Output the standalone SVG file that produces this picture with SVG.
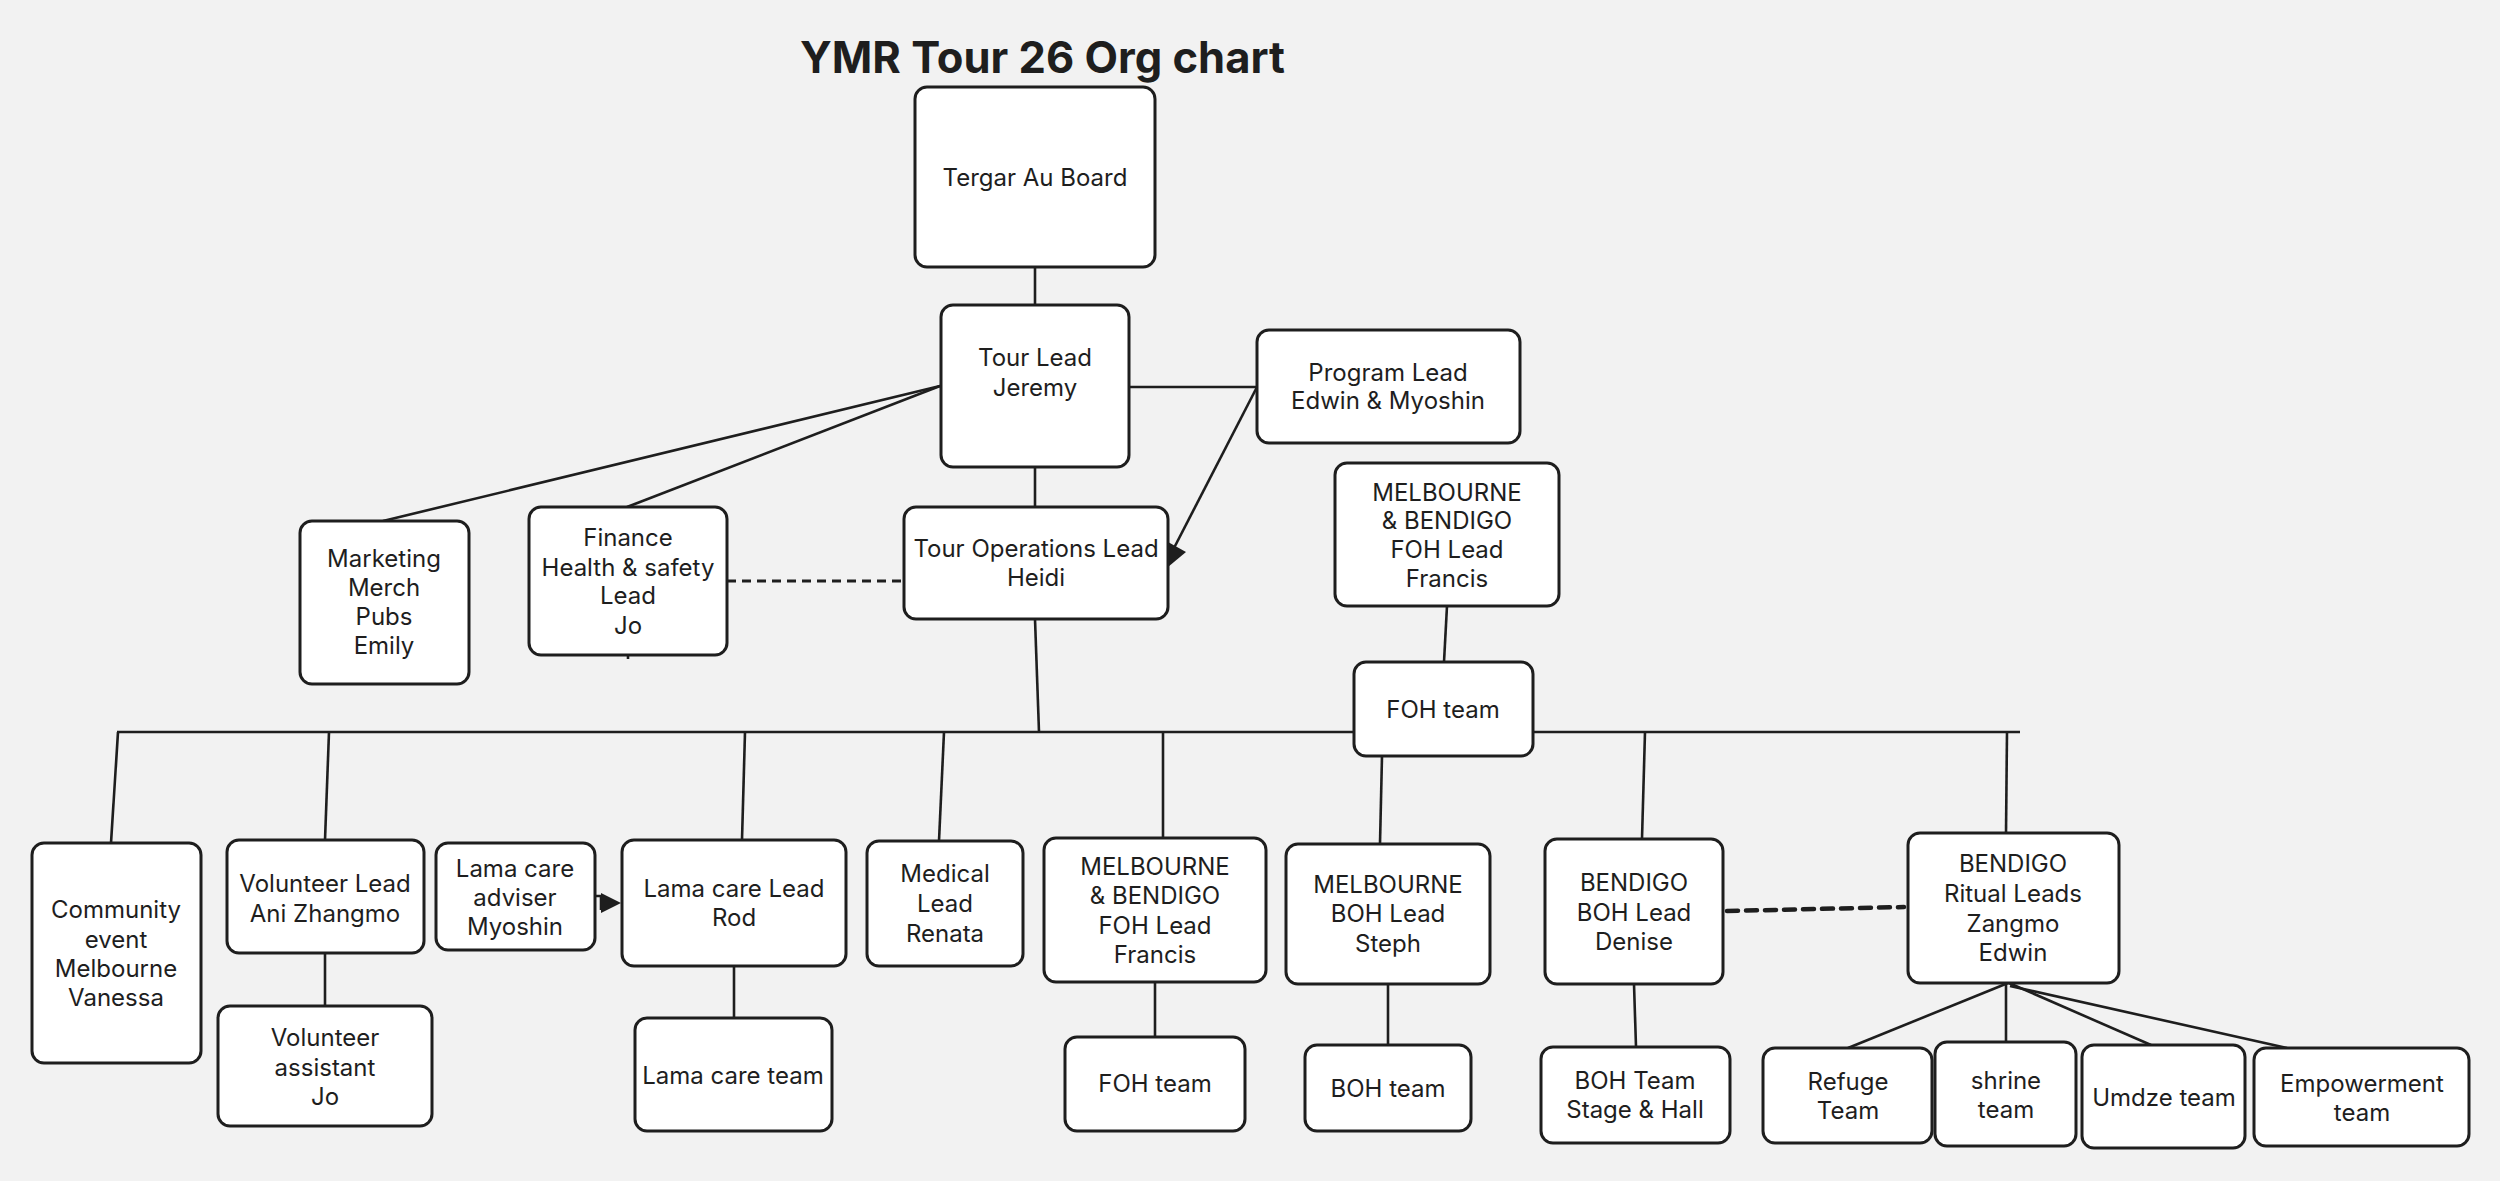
<svg xmlns="http://www.w3.org/2000/svg" width="2500" height="1181" viewBox="0 0 2500 1181">
<style>
.bg{fill:#f2f2f2}
.box{fill:#ffffff;stroke:#1e1e1e;stroke-width:3}
.t{font-family:Inter,"Noto Sans",sans-serif;font-size:24px;fill:#1e1e1e;text-anchor:middle}
.title{font-family:Inter,"Noto Sans",sans-serif;font-size:43.5px;font-weight:700;fill:#1e1e1e}
.ln{stroke:#1e1e1e;stroke-width:2.6;fill:none}
.dash{stroke:#1e1e1e;stroke-width:3;fill:none;stroke-dasharray:9 6}
.dash2{stroke:#1e1e1e;stroke-width:4.5;fill:none;stroke-dasharray:11 8;stroke-linecap:round}
.ah{fill:#1e1e1e}
</style>
<rect class="bg" x="0" y="0" width="2500" height="1181"/>
<text class="title" x="800" y="73">YMR Tour 26 Org chart</text>
<g id="connectors">
<line class="ln" x1="1035" y1="267" x2="1035" y2="305"/>
<line class="ln" x1="1035" y1="467" x2="1035" y2="507"/>
<line class="ln" x1="1129" y1="387" x2="1257" y2="387"/>
<line class="ln" x1="1257" y1="387" x2="1174" y2="548"/>
<polygon class="ah" points="1168,542 1186,552 1168,567"/>
<line class="ln" x1="940" y1="386" x2="383" y2="521"/>
<line class="ln" x1="940" y1="386" x2="627" y2="507"/>
<line class="dash" x1="727" y1="581" x2="904" y2="581"/>
<line class="ln" x1="628" y1="655" x2="628" y2="659"/>
<line class="ln" x1="1035" y1="619" x2="1039" y2="732"/>
<line class="ln" x1="117" y1="732" x2="2020" y2="732"/>
<line class="ln" x1="1447" y1="606" x2="1444" y2="662"/>
<line class="ln" x1="1382" y1="756" x2="1380" y2="844"/>
<line class="ln" x1="118" y1="732" x2="111" y2="843"/>
<line class="ln" x1="329" y1="732" x2="325" y2="840"/>
<line class="ln" x1="325" y1="953" x2="325" y2="1006"/>
<line class="ln" x1="745" y1="732" x2="742" y2="840"/>
<polyline class="ln" points="595,896 601,896 601,910"/>
<polygon class="ah" points="601,893 621,903 601,913"/>
<line class="ln" x1="734" y1="966" x2="734" y2="1018"/>
<line class="ln" x1="944" y1="732" x2="939" y2="841"/>
<line class="ln" x1="1163" y1="732" x2="1163" y2="838"/>
<line class="ln" x1="1155" y1="982" x2="1155" y2="1037"/>
<line class="ln" x1="1388" y1="984" x2="1388" y2="1045"/>
<line class="ln" x1="1645" y1="732" x2="1642" y2="839"/>
<line class="ln" x1="1634" y1="984" x2="1636" y2="1047"/>
<line class="dash2" x1="1727" y1="911" x2="1904" y2="907"/>
<line class="ln" x1="2007" y1="732" x2="2006" y2="833"/>
<line class="ln" x1="2008" y1="983" x2="1848" y2="1048"/>
<line class="ln" x1="2006" y1="983" x2="2006" y2="1042"/>
<line class="ln" x1="2009" y1="983" x2="2151" y2="1045"/>
<line class="ln" x1="2010" y1="986" x2="2287" y2="1048"/>
</g>
<g id="tergar"><rect class="box" x="915" y="87" width="240" height="180" rx="12"/><text class="t" x="1035" y="186">Tergar Au Board</text></g>
<g id="tour-lead"><rect class="box" x="941" y="305" width="188" height="162" rx="12"/><text class="t" x="1035" y="366">Tour Lead</text><text class="t" x="1035" y="396">Jeremy</text></g>
<g id="program-lead"><rect class="box" x="1257" y="330" width="263" height="113" rx="12"/><text class="t" x="1388" y="381">Program Lead</text><text class="t" x="1388" y="409">Edwin &amp; Myoshin</text></g>
<g id="marketing"><rect class="box" x="300" y="521" width="169" height="163" rx="12"/><text class="t" x="384" y="567">Marketing</text><text class="t" x="384" y="596">Merch</text><text class="t" x="384" y="625">Pubs</text><text class="t" x="384" y="654">Emily</text></g>
<g id="finance"><rect class="box" x="529" y="507" width="198" height="148" rx="12"/><text class="t" x="628" y="546">Finance</text><text class="t" x="628" y="576">Health &amp; safety</text><text class="t" x="628" y="604">Lead</text><text class="t" x="628" y="634">Jo</text></g>
<g id="tour-ops"><rect class="box" x="904" y="507" width="264" height="112" rx="12"/><text class="t" x="1036" y="557">Tour Operations Lead</text><text class="t" x="1036" y="586">Heidi</text></g>
<g id="mb-foh-top"><rect class="box" x="1335" y="463" width="224" height="143" rx="12"/><text class="t" x="1447" y="501">MELBOURNE</text><text class="t" x="1447" y="529">&amp; BENDIGO</text><text class="t" x="1447" y="558">FOH Lead</text><text class="t" x="1447" y="587">Francis</text></g>
<g id="foh-team-mid"><rect class="box" x="1354" y="662" width="179" height="94" rx="12"/><text class="t" x="1443" y="718">FOH team</text></g>
<g id="community"><rect class="box" x="32" y="843" width="169" height="220" rx="12"/><text class="t" x="116" y="918">Community</text><text class="t" x="116" y="948">event</text><text class="t" x="116" y="977">Melbourne</text><text class="t" x="116" y="1006">Vanessa</text></g>
<g id="volunteer-lead"><rect class="box" x="227" y="840" width="197" height="113" rx="12"/><text class="t" x="325" y="892">Volunteer Lead</text><text class="t" x="325" y="922">Ani Zhangmo</text></g>
<g id="volunteer-assistant"><rect class="box" x="218" y="1006" width="214" height="120" rx="12"/><text class="t" x="325" y="1046">Volunteer</text><text class="t" x="325" y="1076">assistant</text><text class="t" x="325" y="1105">Jo</text></g>
<g id="lama-adviser"><rect class="box" x="436" y="843" width="159" height="107" rx="12"/><text class="t" x="515" y="877">Lama care</text><text class="t" x="515" y="906">adviser</text><text class="t" x="515" y="935">Myoshin</text></g>
<g id="lama-lead"><rect class="box" x="622" y="840" width="224" height="126" rx="12"/><text class="t" x="734" y="897">Lama care Lead</text><text class="t" x="734" y="926">Rod</text></g>
<g id="lama-team"><rect class="box" x="635" y="1018" width="197" height="113" rx="12"/><text class="t" x="733" y="1084">Lama care team</text></g>
<g id="medical"><rect class="box" x="867" y="841" width="156" height="125" rx="12"/><text class="t" x="945" y="882">Medical</text><text class="t" x="945" y="912">Lead</text><text class="t" x="945" y="942">Renata</text></g>
<g id="mb-foh-low"><rect class="box" x="1044" y="838" width="222" height="144" rx="12"/><text class="t" x="1155" y="875">MELBOURNE</text><text class="t" x="1155" y="904">&amp; BENDIGO</text><text class="t" x="1155" y="934">FOH Lead</text><text class="t" x="1155" y="963">Francis</text></g>
<g id="foh-team-low"><rect class="box" x="1065" y="1037" width="180" height="94" rx="12"/><text class="t" x="1155" y="1092">FOH team</text></g>
<g id="melb-boh"><rect class="box" x="1286" y="844" width="204" height="140" rx="12"/><text class="t" x="1388" y="893">MELBOURNE</text><text class="t" x="1388" y="922">BOH Lead</text><text class="t" x="1388" y="952">Steph</text></g>
<g id="boh-team"><rect class="box" x="1305" y="1045" width="166" height="86" rx="12"/><text class="t" x="1388" y="1097">BOH team</text></g>
<g id="bendigo-boh"><rect class="box" x="1545" y="839" width="178" height="145" rx="12"/><text class="t" x="1634" y="891">BENDIGO</text><text class="t" x="1634" y="921">BOH Lead</text><text class="t" x="1634" y="950">Denise</text></g>
<g id="boh-stage"><rect class="box" x="1541" y="1047" width="189" height="96" rx="12"/><text class="t" x="1635" y="1089">BOH Team</text><text class="t" x="1635" y="1118">Stage &amp; Hall</text></g>
<g id="ritual"><rect class="box" x="1908" y="833" width="211" height="150" rx="12"/><text class="t" x="2013" y="872">BENDIGO</text><text class="t" x="2013" y="902">Ritual Leads</text><text class="t" x="2013" y="932">Zangmo</text><text class="t" x="2013" y="961">Edwin</text></g>
<g id="refuge"><rect class="box" x="1763" y="1048" width="169" height="95" rx="12"/><text class="t" x="1848" y="1090">Refuge</text><text class="t" x="1848" y="1119">Team</text></g>
<g id="shrine"><rect class="box" x="1935" y="1042" width="141" height="104" rx="12"/><text class="t" x="2006" y="1089">shrine</text><text class="t" x="2006" y="1118">team</text></g>
<g id="umdze"><rect class="box" x="2082" y="1045" width="163" height="103" rx="12"/><text class="t" x="2164" y="1106">Umdze team</text></g>
<g id="empowerment"><rect class="box" x="2254" y="1048" width="215" height="98" rx="12"/><text class="t" x="2362" y="1092">Empowerment</text><text class="t" x="2362" y="1121">team</text></g>
</svg>
